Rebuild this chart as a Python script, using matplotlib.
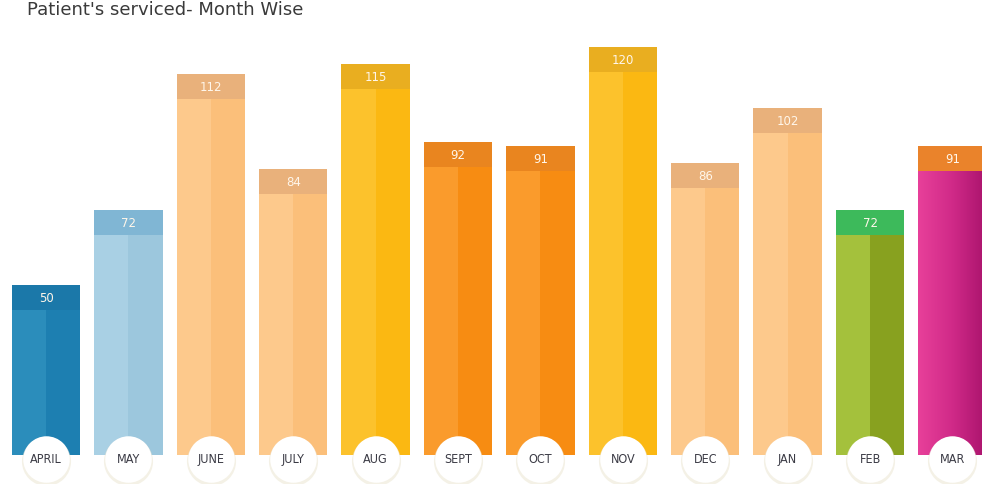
import matplotlib
matplotlib.use('Agg')
import matplotlib.pyplot as plt
import numpy as np

# data
months = ['APRIL', 'MAY', 'JUNE', 'JULY', 'AUG', 'SEPT', 'OCT', 'NOV', 'DEC', 'JAN', 'FEB', 'MAR']
patients = [50, 72, 112, 84, 115, 92, 91, 120, 86, 102, 72, 91]

# colours per bar: left half, right half, header band
light = ['#2b8dbb', '#a9d0e4', '#fdc98c', '#fdc98c', '#fcc22c', '#fa9b2c', '#fa9b2c', '#fcc22c',
         '#fdc98c', '#fdc98c', '#a4c13c', '#e8409a']
dark = ['#1d7fb1', '#9cc7dd', '#fbbf7a', '#fbbf7a', '#fbb812', '#f78c12', '#f78c12', '#fbb812',
        '#fbbf7a', '#fbbf7a', '#88a11f', '#a9136c']
head = ['#1b78a9', '#80b6d4', '#e9b17b', '#e9b17b', '#e9ae20', '#e9851f', '#e9851f', '#e9ae20',
        '#e9b17b', '#e9b17b', '#3dba5b', '#ea832b']

W, H = 982, 485
fig = plt.figure(figsize=(W / 100, H / 100), dpi=100)
ax = fig.add_axes([0, 0, 1, 1])
ax.axis('off')

pitch = 82.4          # px between bar centres
x0 = 46               # px of first centre
base = 29             # px of baseline from bottom
ppu = 3.4             # px per patient
ax.set_xlim(-x0 / pitch, (W - x0) / pitch)
ax.set_ylim(-base / ppu, (H - base) / ppu)

bw = 0.83
band = 25 / ppu
x = np.arange(len(months))

ax.bar(x - bw / 2, patients, width=bw / 2, align='edge', color=light, zorder=2)
ax.bar(x, patients, width=bw / 2, align='edge', color=dark, zorder=2)

# pink gradient on the last bar
full = ax.bar(x[-1], patients[-1], width=bw, color='none', zorder=1)[0]
grad = np.linspace(0, 1, 256).reshape(1, -1)
cm = matplotlib.colors.LinearSegmentedColormap.from_list('mar', [light[-1], '#d02a88', dark[-1]])
im = ax.imshow(grad, cmap=cm, aspect='auto', zorder=3,
               extent=(x[-1] - bw / 2, x[-1] + bw / 2, 0, patients[-1]))
im.set_clip_path(full)

# header bands with the values
ax.bar(x, [band] * len(x), bottom=np.array(patients) - band, width=bw, color=head, zorder=4)
for xi, v in zip(x, patients):
    ax.text(xi, v - band / 2, str(v), ha='center', va='center', color='#fff6ea',
            fontsize=8.5, zorder=5)

# month badges
cy = -4 / ppu
ax.scatter(x, [cy - 0.6] * len(x), s=1250, color='#ede8d6', alpha=0.6, zorder=5, linewidths=0)
ax.scatter(x, [cy] * len(x), s=1120, color='white', zorder=6, linewidths=0)
for xi, m in zip(x, months):
    ax.text(xi, cy, m, ha='center', va='center', color='#3b3b45', fontsize=9,
            fontstretch='condensed', zorder=7)

fig.text(27 / W, 1 - 10 / H, "Patient's serviced- Month Wise", ha='left', va='center',
         fontsize=13, color='#3a3a3a')

fig.savefig('out.png', dpi=100, facecolor='white')
